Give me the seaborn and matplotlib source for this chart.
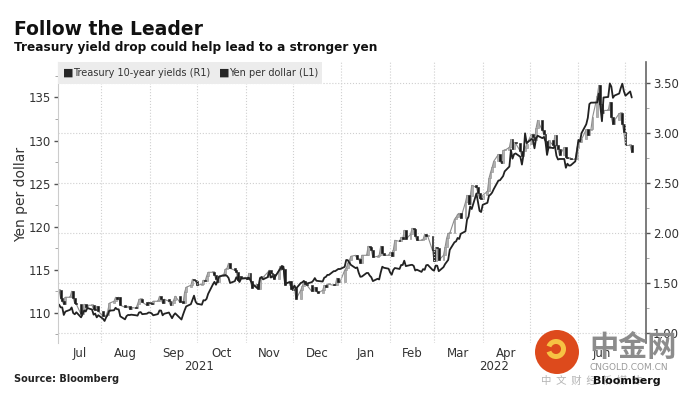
import numpy as np
import pandas as pd
import matplotlib
matplotlib.use("Agg")
import matplotlib.pyplot as plt
import matplotlib.dates as mdates
import matplotlib.ticker as mticker
from matplotlib.patches import Rectangle, Circle, Wedge
from matplotlib.transforms import IdentityTransform
import seaborn as sns

# Yen per dollar (L1), one value per business day, Jul 2 2021 - Jul 5 2022
yen_per_dollar = [
    111.05, 110.95, 110.63, 110.63, 109.75, 110.14, 110.35, 110.62, 109.97, 109.83, 110.06,
    109.47, 109.84, 110.27, 110.15, 110.55, 110.38, 109.78, 109.91, 109.47, 109.72,  # Jul
    109.30, 109.05, 109.48, 109.77, 110.25, 110.29, 110.58, 110.41, 110.40, 109.59, 109.24,
    109.62, 109.75, 109.74, 109.78, 109.71, 109.67, 110.04, 110.08, 109.84, 109.90, 110.03,  # Aug
    110.02, 109.93, 109.71, 109.85, 110.27, 110.26, 109.71, 109.89, 110.03, 109.69, 109.37,
    109.72, 109.94, 109.39, 109.22, 109.78, 110.29, 110.74, 111.00, 111.50, 111.99, 111.29,  # Sep
    111.05, 110.94, 111.46, 111.43, 111.62, 112.20, 113.28, 113.59, 113.26, 113.69, 114.21,
    114.33, 114.38, 114.28, 114.05, 113.46, 113.67, 114.13, 113.84, 113.58, 113.96,  # Oct
    114.01, 113.94, 114.07, 113.77, 113.40, 112.91, 112.87, 113.98, 114.15, 113.88, 114.14,
    114.82, 114.09, 114.27, 114.00, 114.84, 115.13, 115.44, 115.35, 113.39, 113.56, 113.17,  # Nov
    112.80, 113.16, 112.80, 113.45, 113.54, 113.70, 113.48, 113.40, 113.55, 113.73, 114.03, 113.72,
    113.70, 113.63, 114.08, 114.16, 114.40, 114.40, 114.83, 114.84, 114.96, 115.09, 115.08,  # Dec
    115.33, 116.13, 116.11, 115.82, 115.56, 115.19, 115.27, 114.63, 114.18, 114.21, 114.62,
    114.62, 114.32, 114.13, 113.68, 113.95, 113.87, 114.68, 115.35, 115.23, 115.12,  # Jan
    114.68, 114.42, 114.97, 115.20, 115.09, 115.55, 115.55, 116.05, 115.42, 115.55,
    115.57, 115.45, 114.91, 115.01, 114.75, 115.07, 114.99, 115.52, 115.56, 114.99,  # Feb
    114.89, 115.48, 115.47, 114.83, 115.30, 115.65, 115.89, 116.14, 117.31, 118.19, 118.29, 118.69,
    118.57, 119.17, 119.46, 120.81, 121.17, 122.34, 122.05, 123.86, 122.81, 121.83, 121.70,  # Mar
    122.54, 122.77, 123.59, 123.73, 123.96, 124.35, 125.35, 125.39, 125.64, 125.87, 126.42,
    126.98, 128.90, 127.90, 128.42, 128.50, 128.11, 127.21, 128.36, 130.84, 129.70,  # Apr
    130.17, 130.10, 129.10, 130.23, 130.56, 130.28, 130.42, 129.91, 128.33, 129.23, 129.12,
    129.40, 128.23, 127.80, 127.86, 127.86, 126.84, 127.31, 127.09, 127.11, 127.58, 128.70,  # May
    130.07, 129.89, 130.87, 131.89, 132.64, 134.24, 134.40, 134.40, 134.42, 135.46, 133.93,
    132.24, 135.00, 135.06, 136.63, 136.25, 134.96, 135.22, 135.46, 136.11, 136.60, 135.72,  # Jun
    135.20, 135.70, 135.00,  # Jul
]

# Treasury 10-year yields (R1), daily closes, same business days
treasury_10y = [
    1.43, 1.43, 1.35, 1.32, 1.29, 1.36, 1.36, 1.42, 1.35, 1.30, 1.29,
    1.19, 1.22, 1.29, 1.26, 1.28, 1.28, 1.24, 1.23, 1.27, 1.22,  # Jul
    1.17, 1.17, 1.18, 1.22, 1.30, 1.32, 1.36, 1.34, 1.36, 1.28, 1.26,
    1.26, 1.27, 1.24, 1.26, 1.25, 1.29, 1.34, 1.34, 1.31, 1.28, 1.31,  # Aug
    1.30, 1.29, 1.32, 1.32, 1.37, 1.34, 1.30, 1.34, 1.32, 1.28, 1.30,
    1.33, 1.37, 1.31, 1.32, 1.30, 1.41, 1.46, 1.48, 1.54, 1.53, 1.52,  # Sep
    1.48, 1.49, 1.53, 1.52, 1.57, 1.61, 1.61, 1.58, 1.54, 1.51, 1.57,
    1.59, 1.64, 1.65, 1.70, 1.65, 1.63, 1.61, 1.53, 1.57, 1.55,  # Oct
    1.56, 1.54, 1.60, 1.52, 1.45, 1.49, 1.44, 1.56, 1.56, 1.56, 1.61,
    1.63, 1.60, 1.59, 1.54, 1.63, 1.67, 1.64, 1.64, 1.48, 1.52, 1.44,  # Nov
    1.43, 1.45, 1.34, 1.43, 1.47, 1.52, 1.49, 1.48, 1.42, 1.44, 1.46, 1.42,
    1.40, 1.43, 1.48, 1.46, 1.49, 1.49, 1.48, 1.48, 1.55, 1.51, 1.51,  # Dec
    1.63, 1.65, 1.70, 1.73, 1.77, 1.78, 1.74, 1.74, 1.70, 1.78, 1.78,
    1.87, 1.86, 1.83, 1.76, 1.77, 1.78, 1.87, 1.80, 1.78, 1.78,  # Jan
    1.81, 1.77, 1.83, 1.93, 1.92, 1.96, 1.94, 2.03, 1.94, 1.99,
    2.05, 2.04, 1.97, 1.93, 1.93, 1.94, 1.99, 1.97, 1.97, 1.83,  # Feb
    1.72, 1.86, 1.85, 1.73, 1.78, 1.86, 1.95, 2.00, 2.00, 2.14, 2.16, 2.19,
    2.20, 2.15, 2.31, 2.38, 2.29, 2.37, 2.48, 2.46, 2.40, 2.35, 2.34,  # Mar
    2.38, 2.42, 2.55, 2.61, 2.66, 2.72, 2.79, 2.72, 2.70, 2.83, 2.83,
    2.86, 2.94, 2.84, 2.91, 2.90, 2.82, 2.77, 2.82, 2.85, 2.89,  # Apr
    2.99, 2.96, 2.93, 3.05, 3.13, 3.03, 2.99, 2.92, 2.85, 2.93, 2.88,
    2.98, 2.88, 2.84, 2.78, 2.86, 2.76, 2.75, 2.75, 2.74, 2.74, 2.85,  # May
    2.91, 2.91, 2.94, 3.04, 2.98, 3.03, 3.04, 3.16, 3.37, 3.48, 3.29,
    3.20, 3.23, 3.23, 3.31, 3.16, 3.09, 3.13, 3.20, 3.20, 3.09, 3.01,  # Jun
    2.88, 2.88, 2.81,  # Jul
]

yen_ticks = [110, 115, 120, 125, 130, 135]
yield_ticks = [1.00, 1.50, 2.00, 2.50, 3.00, 3.50]

trading_days = pd.bdate_range("2021-07-02", "2022-07-05")
n = min(len(trading_days), len(yen_per_dollar), len(treasury_10y))
df = pd.DataFrame({
    "date": trading_days[:n],
    "yen": yen_per_dollar[:n],
    "close": treasury_10y[:n],
})
df["open"] = df["close"].shift(1).fillna(df["close"])

sns.set_style("white")
plt.rcParams["font.family"] = ["DejaVu Sans", "Noto Sans CJK SC"]

fig = plt.figure(figsize=(6.93, 3.96), dpi=100)
ax = fig.add_axes([0.083, 0.134, 0.849, 0.709])
ax2 = ax.twinx()
ax.set_zorder(ax2.get_zorder() + 1)
ax.patch.set_visible(False)

x0, x1 = pd.Timestamp("2021-07-04"), pd.Timestamp("2022-07-14")

# treasury candles on the right axis
ax2.plot(df["date"], df["close"], color="#8c8c8c", linewidth=0.8, zorder=1)
up = df["close"] >= df["open"]
bottoms = np.minimum(df["open"], df["close"])
heights = np.maximum((df["close"] - df["open"]).abs(), 0.012)
ax2.bar(df["date"][up], heights[up], bottom=bottoms[up], width=1.2,
        color="#b0b0b0", edgecolor="#8a8a8a", linewidth=0.4, zorder=2)
ax2.bar(df["date"][~up], heights[~up], bottom=bottoms[~up], width=1.2,
        color="#1a1a1a", edgecolor="#1a1a1a", linewidth=0.4, zorder=2)
ax2.set_ylim(0.903, 3.713)
ax2.set_yticks(yield_ticks)
ax2.yaxis.set_minor_locator(mticker.MultipleLocator(0.25))
ax2.yaxis.set_major_formatter(mticker.FormatStrFormatter("%.2f"))
ax2.grid(axis="y", which="major", linestyle=":", color="#cfcfcf", linewidth=0.8)

# yen line on the left axis
sns.lineplot(data=df, x="date", y="yen", ax=ax, color="#222222", linewidth=1.3)
ax.set_ylim(106.5, 139.1)
ax.set_yticks(yen_ticks)
ax.yaxis.set_minor_locator(mticker.MultipleLocator(2.5))
ax.set_ylabel("Yen per dollar", fontsize=10, color="#333333")
ax.yaxis.set_label_coords(-0.05, 0.53)
ax.set_xlabel("")

ax.set_xlim(x0, x1)
ax.xaxis.set_major_locator(mdates.MonthLocator())
ax.xaxis.set_major_formatter(mticker.NullFormatter())
month_starts = pd.date_range("2021-07-01", "2022-08-01", freq="MS")
mids = []
for a, b in zip(month_starts[:-1], month_starts[1:]):
    a, b = max(a, x0), min(b, x1)
    if (b - a).days > 20:
        mids.append(a + (b - a) / 2)
ax.xaxis.set_minor_locator(mticker.FixedLocator(mdates.date2num(mids)))
ax.xaxis.set_minor_formatter(mdates.DateFormatter("%b"))
ax.grid(axis="x", which="major", linestyle=":", color="#cfcfcf", linewidth=0.8)

ax.tick_params(axis="x", which="major", length=3, color="#999999", direction="in")
ax.tick_params(axis="x", which="minor", length=0, labelsize=8.5, labelcolor="#333333", pad=3)
ax.tick_params(axis="y", which="major", length=3, width=1, color="#555555",
               labelsize=8.5, labelcolor="#333333", pad=2)
ax.tick_params(axis="y", which="minor", length=2, color="#999999")
ax2.tick_params(axis="y", which="major", length=3, width=1, color="#555555",
                labelsize=8.5, labelcolor="#333333", pad=2)
ax2.tick_params(axis="y", which="minor", length=2, color="#999999")

for a in (ax, ax2):
    for side in ("top", "bottom", "left", "right"):
        a.spines[side].set_visible(False)
ax.spines["left"].set_visible(True)
ax.spines["left"].set_color("#cccccc")
ax2.spines["right"].set_visible(True)
ax2.spines["right"].set_color("#666666")
ax2.spines["right"].set_linewidth(1.2)

# year labels under the month labels
jan1 = pd.Timestamp("2022-01-01")
for a, b, yr in [(x0, jan1, "2021"), (jan1, x1, "2022")]:
    ax.text(a + (b - a) / 2, -0.062, yr, transform=ax.get_xaxis_transform(),
            ha="center", va="top", fontsize=8.5, color="#333333")

# legend band
ax.add_patch(Rectangle((0, 0.924), 0.449, 0.076, transform=ax.transAxes,
                       facecolor="#ececec", edgecolor="none", zorder=5, clip_on=False))
ax.text(0.010, 0.962, "■", transform=ax.transAxes, fontsize=8, va="center", zorder=6)
ax.text(0.027, 0.962, "Treasury 10-year yields (R1)", transform=ax.transAxes,
        fontsize=7, color="#333333", va="center", zorder=6)
ax.text(0.274, 0.962, "■", transform=ax.transAxes, fontsize=8, va="center", zorder=6)
ax.text(0.291, 0.962, "Yen per dollar (L1)", transform=ax.transAxes,
        fontsize=7, color="#333333", va="center", zorder=6)

# titles and source
fig.text(0.020, 0.912, "Follow the Leader", fontsize=13.5, fontweight="bold", color="#111111")
fig.text(0.020, 0.872, "Treasury yield drop could help lead to a stronger yen",
         fontsize=8.7, fontweight="bold", color="#111111")
fig.text(0.020, 0.036, "Source: Bloomberg", fontsize=7, fontweight="bold", color="#222222")

# watermark in the corner
fig.patches.append(Circle((557, 44), 22, transform=IdentityTransform(),
                          facecolor="#dd4a1c", edgecolor="none", zorder=10))
fig.patches.append(Wedge((556, 47), 10, 200, 520, width=5, transform=IdentityTransform(),
                         facecolor="#f6c343", edgecolor="none", zorder=11))
fig.text(0.850, 0.100, "中金网", fontsize=21, fontweight="bold", color="#8c8c8c",
         family=["Noto Sans CJK SC"], zorder=12)
fig.text(0.851, 0.066, "CNGOLD.COM.CN", fontsize=6.5, color="#9a9a9a", zorder=12)
fig.text(0.780, 0.030, "中  文  财  经  新  媒  体", fontsize=7.5, color="#b5b5b5",
         family=["Noto Sans CJK SC"], zorder=12)
fig.text(0.856, 0.030, "Bloomberg", fontsize=8, fontweight="bold", color="#111111", zorder=13)

fig.savefig("out.png", dpi=100)
